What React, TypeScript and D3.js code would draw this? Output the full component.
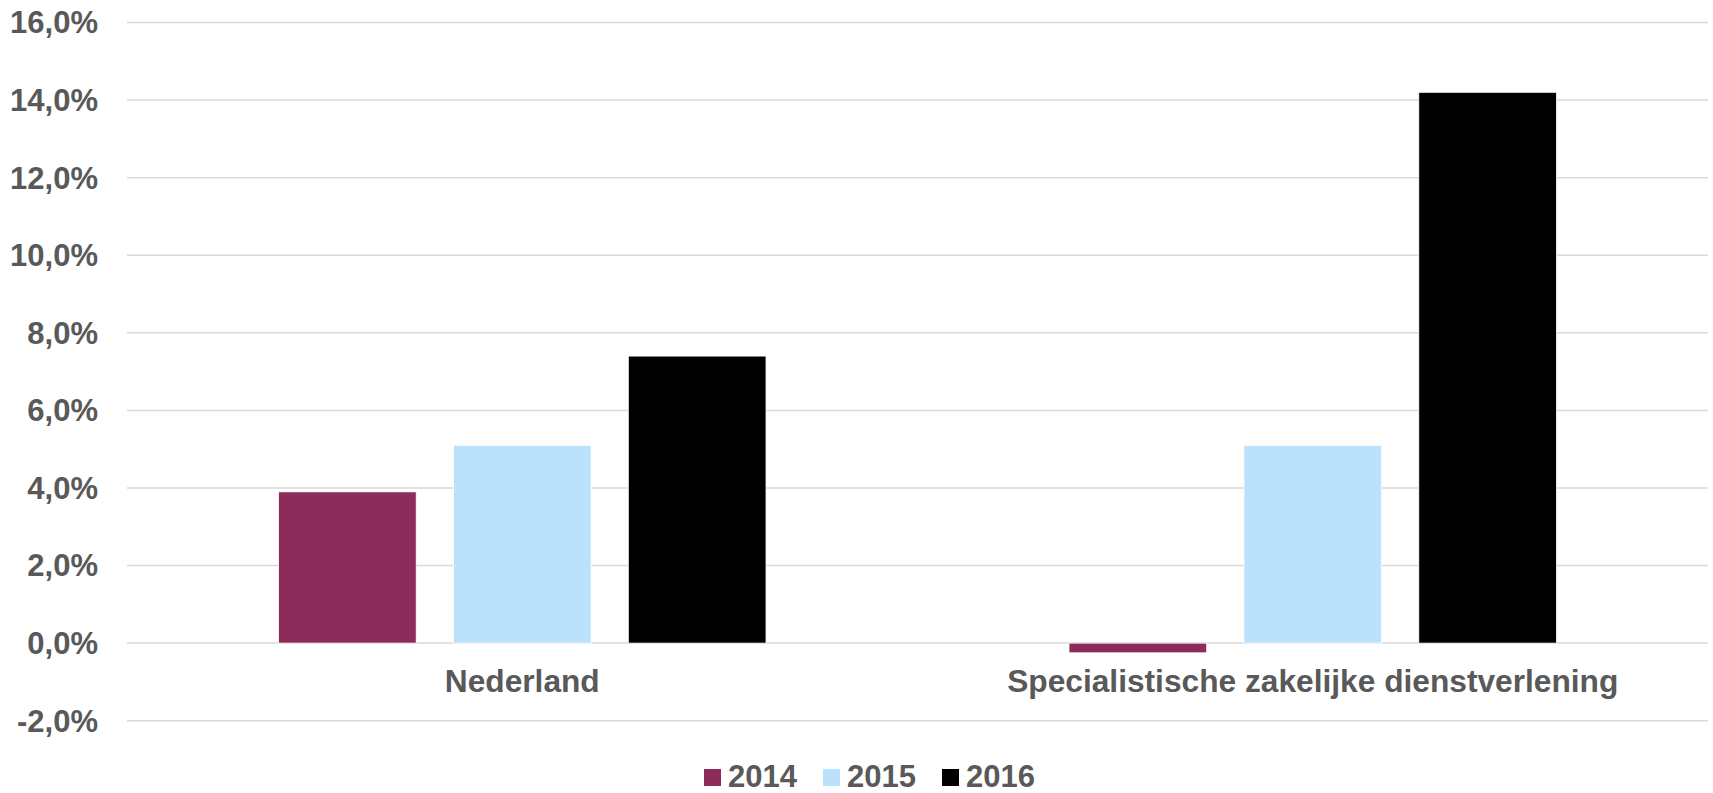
import React, { useEffect, useRef } from 'react'
import * as d3 from 'd3'

const categories = ['Nederland', 'Specialistische zakelijke dienstverlening']
const seriesKeys = ['2014', '2015', '2016']
const values2014 = [3.9, -0.25]
const values2015 = [5.1, 5.1]
const values2016 = [7.4, 14.2]
const yTicks = [-2, 0, 2, 4, 6, 8, 10, 12, 14, 16]

const seriesColors = ['#8B2C5B', '#BCE1FD', '#000000']
const textColor = '#595959'
const font = '"Liberation Sans", Arial, sans-serif'

function App() {
    const ref = useRef<SVGSVGElement | null>(null)

    useEffect(() => {
        const width = 1713
        const height = 793
        const margin = { top: 22.5, right: 5, bottom: 72.3, left: 127 }

        const svg = d3.select(ref.current)
        svg.selectAll('*').remove()

        const seriesValues = [values2014, values2015, values2016]
        const rows = categories.map((c, i) => ({
            group: c,
            bars: seriesKeys.map((k, j) => ({ key: k, val: seriesValues[j][i] }))
        }))

        const x = d3.scaleBand()
            .domain(categories)
            .range([margin.left, width - margin.right])
            .padding(0)

        const y = d3.scaleLinear()
            .domain([-2, 16])
            .range([height - margin.bottom, margin.top])

        // excel style: gap width 220%, overlap -27%
        const gapWidth = 2.2
        const overlap = 0.27
        const n = seriesKeys.length
        const barW = x.bandwidth() / (n + (n - 1) * overlap + gapWidth)
        const groupW = n * barW + (n - 1) * overlap * barW
        const xSub = d3.scaleBand()
            .domain(seriesKeys)
            .range([-groupW / 2, groupW / 2])
            .paddingInner(overlap / (1 + overlap))
            .paddingOuter(0)

        const fmt = (v: number) => d3.format('.1f')(v).replace('.', ',').replace('−', '-') + '%'

        // grid lines
        svg.append('g')
            .selectAll('line')
            .data(yTicks)
            .join('line')
            .attr('x1', margin.left)
            .attr('x2', width - margin.right)
            .attr('y1', d => y(d))
            .attr('y2', d => y(d))
            .attr('stroke', '#d9d9d9')
            .attr('stroke-width', 1.5)

        // y tick labels
        svg.append('g')
            .selectAll('text')
            .data(yTicks)
            .join('text')
            .attr('x', 98)
            .attr('y', d => y(d))
            .attr('dy', '0.35em')
            .attr('text-anchor', 'end')
            .attr('fill', textColor)
            .attr('font-family', font)
            .attr('font-weight', 'bold')
            .attr('font-size', 31)
            .text(d => fmt(d))

        // bars
        svg.append('g')
            .selectAll('g')
            .data(rows)
            .join('g')
            .attr('transform', d => `translate(${(x(d.group) || 0) + x.bandwidth() / 2},0)`)
            .selectAll('rect')
            .data(d => d.bars)
            .join('rect')
            .attr('x', d => xSub(d.key) || 0)
            .attr('width', xSub.bandwidth())
            .attr('y', d => y(Math.max(0, d.val)))
            .attr('height', d => Math.abs(y(d.val) - y(0)))
            .attr('fill', d => seriesColors[seriesKeys.indexOf(d.key)])
            .attr('stroke', '#ffffff')
            .attr('stroke-width', 0.8)

        // category labels
        svg.append('g')
            .selectAll('text')
            .data(categories)
            .join('text')
            .attr('x', d => (x(d) || 0) + x.bandwidth() / 2)
            .attr('y', 692)
            .attr('text-anchor', 'middle')
            .attr('fill', textColor)
            .attr('font-family', font)
            .attr('font-weight', 'bold')
            .attr('font-size', 31.7)
            .text(d => d)

        // legend
        const legendX = 704
        const legendStep = 119
        const legend = svg.append('g')
            .selectAll('g')
            .data(seriesKeys)
            .join('g')
            .attr('transform', (d, i) => `translate(${legendX + i * legendStep},769)`)

        legend.append('rect')
            .attr('width', 17)
            .attr('height', 17)
            .attr('fill', (d, i) => seriesColors[i])

        legend.append('text')
            .attr('x', 24)
            .attr('y', 17.5)
            .attr('fill', textColor)
            .attr('font-family', font)
            .attr('font-weight', 'bold')
            .attr('font-size', 31)
            .text(d => d)
    }, [])

    return (
        <svg
            ref={ref}
            width={1713}
            height={793}
            style={{ position: 'absolute', left: 0, top: 0, background: '#fff' }}
        />
    )
}

export default App
